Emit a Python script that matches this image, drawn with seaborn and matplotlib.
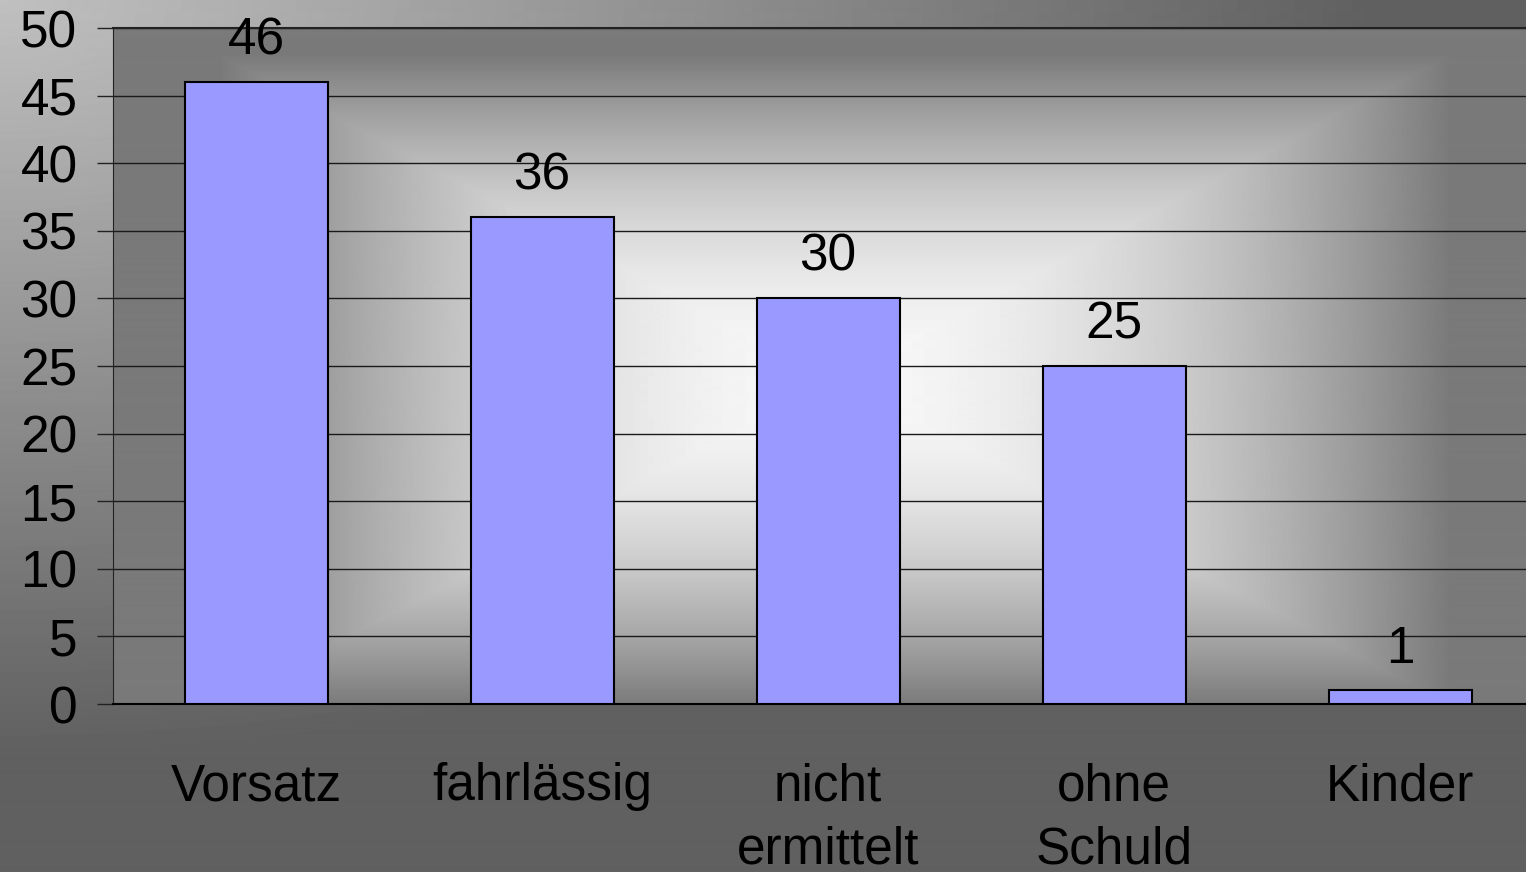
import numpy as np
import pandas as pd
import seaborn as sns
import matplotlib.pyplot as plt

# counts per category
categories = ["Vorsatz", "fahrlässig", "nicht\nermittelt", "ohne\nSchuld", "Kinder"]
counts = [46, 36, 30, 25, 1]
yticks = [0, 5, 10, 15, 20, 25, 30, 35, 40, 45, 50]

df = pd.DataFrame({"kategorie": categories, "anzahl": counts})

sns.set_style("white")
plt.rcParams["font.family"] = ["Liberation Sans", "DejaVu Sans"]
plt.rcParams["text.color"] = "black"
plt.rcParams["xtick.labelcolor"] = "black"
plt.rcParams["ytick.labelcolor"] = "black"

W, H = 1526, 872
fig = plt.figure(figsize=(W / 100, H / 100), dpi=100)

# plot box in pixels, right side runs past the edge of the slide
px0, px1, py0, py1 = 113, 1543, 28, 704
ax_rect = [px0 / W, 1 - py1 / H, (px1 - px0) / W, (py1 - py0) / H]

# slide background: light top left, darker towards the other sides
yy, xx = np.mgrid[0:H, 0:W].astype(float)
d = np.sqrt((xx * 0.55) ** 2 + yy ** 2)
img = np.maximum(192 - 0.127 * d, 96)

# plot area: rectangular gradient, bright in the middle, flat dark rim
gx0, gx1, gy0, gy1 = 220, 1450, 55, 705
cx, cy = (gx0 + gx1) / 2, (gy0 + gy1) / 2
rx, ry = (gx1 - gx0) / 2, (gy1 - gy0) / 2
v = np.maximum(np.abs(xx - cx) / rx, np.abs(yy - cy) / ry)
inside = (xx >= px0) & (yy >= py0) & (yy <= py1)
img[inside] = 248 - 126 * np.clip(v[inside], 0, 1) ** 1.8

bg = fig.add_axes([0, 0, 1, 1], zorder=0)
bg.imshow(img, cmap="gray", vmin=0, vmax=255, aspect="auto", interpolation="bilinear")
bg.axis("off")

ax = fig.add_axes(ax_rect, zorder=1)
ax.set_facecolor("none")

sns.barplot(data=df, x="kategorie", y="anzahl", color="#9999ff", saturation=1,
            edgecolor="black", linewidth=1.5, width=0.5, ax=ax, zorder=3)

ax.bar_label(ax.containers[0], fontsize=37, padding=12, color="black")

ax.set_xlim(-0.5, len(categories) - 0.5)
ax.set_ylim(0, 50)
ax.set_yticks(yticks)
ax.set_yticklabels([str(t) for t in yticks], fontsize=37)
ax.yaxis.grid(True, color="#1a1a1a", linewidth=1)
ax.set_axisbelow(True)

# ticks between categories, labels under the bars
ax.set_xticks(np.arange(len(categories)) - 0.5, labels=[""] * len(categories))
ax.set_xticks(np.arange(len(categories)), labels=categories, minor=True)
ax.tick_params(axis="x", which="major", length=12, width=1, color="#222222", direction="out")
ax.tick_params(axis="x", which="minor", length=0, pad=42, labelsize=37)
ax.tick_params(axis="y", length=11.5, width=1, color="#222222", pad=14, left=True)
for lab in ax.get_xticklabels(minor=True):
    lab.set_linespacing(1.38)
ax.set_xlabel("")
ax.set_ylabel("")

ax.spines["right"].set_visible(False)
ax.spines["left"].set_color("#222222")
ax.spines["bottom"].set_color("black")
ax.spines["bottom"].set_linewidth(1.5)
ax.spines["top"].set_color("#222222")
ax.spines["top"].set_linewidth(1.5)

fig.savefig("out.png", dpi=100)
